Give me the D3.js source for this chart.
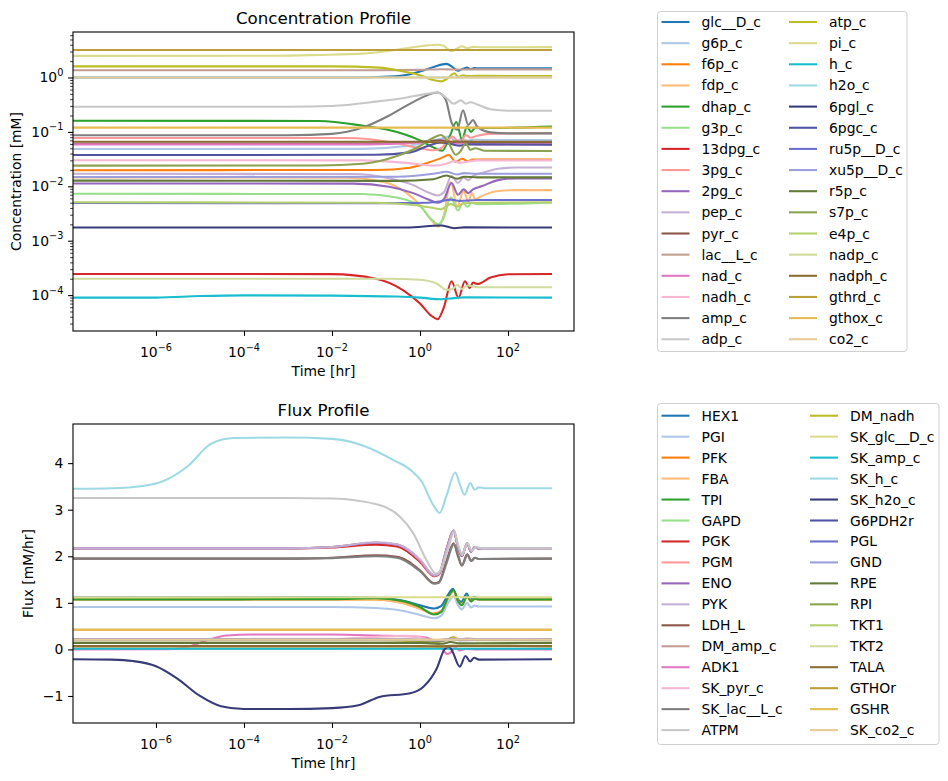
<!DOCTYPE html>
<html>
<head>
<meta charset="utf-8">
<script src="https://cdn.jsdelivr.net/npm/d3@7"></script>
<style>
  body { margin: 0; background: #fff; }
  text { font-family: "DejaVu Sans", sans-serif; fill: #000; }
</style>
</head>
<body>
<svg id="chart" width="948" height="781"></svg>
<script>
// ---- data (time in hr) ----
const xTicks = [1e-6, 1e-4, 1e-2, 1, 1e2];
const concTicks = [1e-4, 1e-3, 1e-2, 1e-1, 1];
const fluxTicks = [-1, 0, 1, 2, 3, 4];

const concNames = ["glc__D_c", "g6p_c", "f6p_c", "fdp_c", "dhap_c", "g3p_c", "13dpg_c", "3pg_c",
  "2pg_c", "pep_c", "pyr_c", "lac__L_c", "nad_c", "nadh_c", "amp_c", "adp_c",
  "atp_c", "pi_c", "h_c", "h2o_c", "6pgl_c", "6pgc_c", "ru5p__D_c", "xu5p__D_c",
  "r5p_c", "s7p_c", "e4p_c", "nadp_c", "nadph_c", "gthrd_c", "gthox_c", "co2_c"];

const concData = [
  [[1.3e-8,1.0],[0.03,1.0],[0.2,1.04],[0.6,1.15],[1.2,1.35],[2.2,1.6],[4,1.78],[5.5,1.55],[7.3,1.33],[9.5,1.45],[11.7,1.52],[14,1.42],[17,1.5],[22,1.47],[1000,1.48]],
  [[1.3e-8,0.0486],[0.05,0.0488],[0.5,0.055],[1.5,0.065],[3,0.075],[4.5,0.082],[6.5,0.068],[9,0.075],[12,0.069],[16,0.072],[30,0.071],[1000,0.071]],
  [[1.3e-8,0.0198],[0.1,0.02],[0.6,0.022],[1.5,0.027],[3,0.033],[4.5,0.0375],[6.5,0.028],[9,0.032],[12,0.029],[16,0.031],[1000,0.031]],
  [[1.3e-8,0.0146],[0.02,0.0144],[0.15,0.012],[0.5,0.0075],[1,0.0045],[1.8,0.0024],[2.6,0.0018],[3.5,0.003],[5,0.012],[7,0.0042],[9.8,0.0083],[12.5,0.0052],[15,0.0075],[18,0.0058],[25,0.0066],[60,0.0082],[150,0.0085],[1000,0.0085]],
  [[1.3e-8,0.16],[0.005,0.159],[0.05,0.13],[0.3,0.1],[1,0.07],[2,0.052],[3.2,0.045],[4.8,0.085],[6.7,0.152],[9,0.072],[11.7,0.125],[14.5,0.1],[18,0.12],[25,0.118],[1000,0.125]],
  [[1.3e-8,0.00728],[0.05,0.0072],[0.3,0.0062],[1,0.0043],[1.8,0.0025],[2.6,0.002],[3.5,0.0027],[5,0.0063],[7.3,0.0036],[9.5,0.005],[12,0.0042],[15,0.005],[20,0.0047],[1000,0.005]],
  [[1.3e-8,0.000245],[0.01,0.000243],[0.1,0.0002],[0.4,0.000125],[1,0.00007],[1.8,0.000042],[2.5,0.000036],[3.5,0.00006],[5.2,0.00018],[7.5,0.00009],[10.5,0.00018],[13.5,0.000135],[16,0.00017],[20,0.00016],[40,0.00021],[100,0.000242],[1000,0.000245]],
  [[1.3e-8,0.0773],[0.02,0.077],[0.3,0.062],[1,0.05],[2,0.046],[3,0.05],[5.5,0.082],[8,0.062],[11,0.088],[14,0.078],[20,0.085],[50,0.093],[1000,0.095]],
  [[1.3e-8,0.0113],[0.03,0.0112],[0.2,0.0098],[0.7,0.0075],[1.5,0.0058],[2.5,0.005],[3.5,0.0058],[5.2,0.0115],[7.3,0.007],[9.8,0.0088],[12.5,0.0075],[16,0.0088],[25,0.01],[60,0.013],[150,0.014],[1000,0.014]],
  [[1.3e-8,0.017],[0.03,0.0168],[0.2,0.014],[0.7,0.0105],[1.5,0.0078],[2.5,0.0068],[3.5,0.0078],[5.2,0.0155],[7.3,0.0115],[9.8,0.0145],[12.5,0.013],[16,0.0155],[25,0.0175],[60,0.021],[150,0.0222],[1000,0.0222]],
  [[1.3e-8,0.0603],[0.1,0.061],[1,0.066],[3,0.07],[5,0.066],[8,0.064],[20,0.063],[1000,0.063]],
  [[1.3e-8,1.36],[0.1,1.36],[1,1.38],[3,1.42],[6,1.4],[20,1.41],[1000,1.41]],
  [[1.3e-8,0.0589],[0.05,0.059],[0.5,0.062],[2,0.065],[4,0.063],[6,0.06],[8,0.062],[20,0.059],[1000,0.059]],
  [[1.3e-8,0.0301],[0.05,0.03],[0.5,0.027],[2,0.024],[4,0.026],[6,0.029],[8,0.027],[20,0.03],[1000,0.03]],
  [[1.3e-8,0.0867],[0.001,0.087],[0.01,0.092],[0.05,0.12],[0.2,0.2],[0.6,0.33],[1.2,0.44],[2.5,0.53],[3.8,0.4],[5.2,0.15],[7,0.11],[9.5,0.25],[12.5,0.134],[16,0.165],[20,0.125],[40,0.098],[100,0.094],[1000,0.094]],
  [[1.3e-8,0.29],[0.001,0.291],[0.01,0.3],[0.1,0.36],[0.5,0.43],[1.2,0.49],[2.5,0.53],[4,0.42],[5.8,0.33],[8.5,0.38],[11,0.33],[14,0.35],[20,0.32],[40,0.26],[100,0.245],[1000,0.245]],
  [[1.3e-8,1.6],[0.01,1.6],[0.12,1.52],[0.4,1.3],[1,1.1],[2,0.9],[3,0.85],[4.5,1.0],[6,1.2],[7.5,1.02],[9.5,1.1],[12,1.06],[20,1.07],[1000,1.06]],
  [[1.3e-8,2.5],[0.0005,2.51],[0.005,2.6],[0.05,2.75],[0.2,3.1],[0.7,3.6],[1.5,3.9],[2.5,4.0],[3.5,3.8],[5,3.05],[6.5,3.3],[9,3.75],[12,3.45],[16,3.65],[25,3.6],[1000,3.62]],
  [[1.3e-8,8.99e-5],[1e-6,9.0e-5],[1e-5,9.6e-5],[1e-4,9.9e-5],[0.01,9.8e-5],[0.3,9.4e-5],[1,9.0e-5],[3,8.4e-5],[6,8.8e-5],[10,9.1e-5],[1000,9.0e-5]],
  [[1.3e-8,1.0],[1000,1.0]],
  [[1.3e-8,0.00175],[0.5,0.00175],[3,0.0019],[6,0.0017],[10,0.00176],[1000,0.00175]],
  [[1.3e-8,0.0375],[0.1,0.038],[0.6,0.042],[1.5,0.055],[3,0.064],[5,0.06],[8,0.056],[12,0.059],[1000,0.058]],
  [[1.3e-8,0.00494],[0.3,0.0049],[1.5,0.005],[3,0.0053],[5,0.0057],[8,0.0054],[20,0.0056],[1000,0.0056]],
  [[1.3e-8,0.0148],[0.3,0.015],[2,0.017],[4,0.0185],[7,0.0165],[10,0.0175],[20,0.017],[1000,0.017]],
  [[1.3e-8,0.0127],[0.3,0.0126],[2,0.0135],[4,0.0158],[7,0.0138],[10,0.015],[20,0.0146],[1000,0.0146]],
  [[1.3e-8,0.024],[0.005,0.0242],[0.05,0.026],[0.3,0.036],[1,0.055],[2,0.078],[3,0.088],[4.5,0.062],[6.5,0.038],[8.5,0.045],[11,0.062],[14,0.047],[18,0.05],[30,0.045],[1000,0.0445]],
  [[1.3e-8,0.00508],[0.1,0.005],[0.8,0.0045],[2,0.004],[3,0.0038],[5,0.0047],[7,0.0042],[10,0.0049],[20,0.005],[1000,0.0051]],
  [[1.3e-8,0.0002],[0.2,0.0002],[1,0.000192],[2.5,0.00016],[4,0.000125],[5.5,0.00013],[7,0.000155],[9,0.00013],[12,0.00015],[20,0.00014],[1000,0.00014]],
  [[1.3e-8,0.0658],[0.2,0.066],[1,0.066],[3,0.064],[6,0.0665],[20,0.066],[1000,0.066]],
  [[1.3e-8,3.2],[1000,3.2]],
  [[1.3e-8,0.12],[1000,0.12]],
  [[1.3e-8,1.0],[1000,1.0]]
];

const fluxNames = ["HEX1", "PGI", "PFK", "FBA", "TPI", "GAPD", "PGK", "PGM",
  "ENO", "PYK", "LDH_L", "DM_amp_c", "ADK1", "SK_pyr_c", "SK_lac__L_c", "ATPM",
  "DM_nadh", "SK_glc__D_c", "SK_amp_c", "SK_h_c", "SK_h2o_c", "G6PDH2r", "PGL", "GND",
  "RPE", "RPI", "TKT1", "TKT2", "TALA", "GTHOr", "GSHR", "SK_co2_c"];

const fluxData = [
  [[1.3e-8,1.12],[0.01,1.12],[0.1,1.11],[0.4,1.05],[1,0.95],[2.1,0.88],[3,0.93],[4.5,1.2],[5.6,1.3],[7,1.1],[8.7,1.02],[11.5,1.2],[14,1.06],[17,1.13],[22,1.08],[1000,1.08]],
  [[1.3e-8,0.91],[0.01,0.91],[0.1,0.89],[0.4,0.83],[1,0.74],[2.1,0.67],[3,0.72],[4.5,1.02],[5.8,1.14],[7.3,0.95],[8.9,0.86],[11.8,1.0],[14.5,0.9],[17.5,0.94],[22,0.92],[1000,0.92]],
  [[1.3e-8,1.07],[0.01,1.075],[0.1,1.07],[0.4,1.0],[1,0.88],[2.1,0.77],[3,0.82],[4.5,1.13],[5.8,1.25],[7.3,1.04],[8.9,0.96],[11.8,1.13],[14.5,1.03],[17.5,1.09],[22,1.07],[1000,1.07]],
  [[1.3e-8,1.07],[0.01,1.075],[0.1,1.07],[0.4,0.99],[1,0.87],[2.1,0.76],[3,0.81],[4.5,1.12],[5.8,1.24],[7.3,1.04],[8.9,0.96],[11.8,1.13],[14.5,1.03],[17.5,1.09],[22,1.07],[1000,1.07]],
  [[1.3e-8,1.07],[0.01,1.08],[0.1,1.1],[0.4,1.04],[1,0.91],[2.1,0.75],[3,0.8],[4.5,1.15],[5.8,1.27],[7.3,1.04],[8.9,0.95],[11.8,1.14],[14.5,1.03],[17.5,1.09],[22,1.07],[1000,1.07]],
  [[1.3e-8,2.17],[0.001,2.17],[0.01,2.2],[0.1,2.28],[0.3,2.24],[1,1.9],[2.1,1.58],[2.7,1.62],[4,2.15],[5.8,2.55],[7.3,2.2],[8.9,2.0],[11.8,2.28],[14.5,2.1],[17.5,2.2],[22,2.16],[1000,2.17]],
  [[1.3e-8,2.17],[0.001,2.17],[0.01,2.19],[0.1,2.25],[0.3,2.21],[1,1.88],[2.1,1.57],[2.7,1.61],[4,2.14],[5.8,2.53],[7.3,2.2],[8.9,2.0],[11.8,2.27],[14.5,2.1],[17.5,2.2],[22,2.16],[1000,2.17]],
  [[1.3e-8,2.17],[0.001,2.17],[0.01,2.2],[0.1,2.29],[0.3,2.25],[1,1.91],[2.1,1.58],[2.7,1.62],[4,2.16],[5.8,2.55],[7.3,2.2],[8.9,2.0],[11.8,2.28],[14.5,2.1],[17.5,2.2],[22,2.16],[1000,2.17]],
  [[1.3e-8,2.17],[0.001,2.17],[0.01,2.2],[0.1,2.29],[0.3,2.25],[1,1.92],[2.1,1.59],[2.7,1.62],[4,2.15],[5.8,2.55],[7.3,2.21],[8.9,2.01],[11.8,2.28],[14.5,2.1],[17.5,2.2],[22,2.16],[1000,2.17]],
  [[1.3e-8,2.17],[0.001,2.17],[0.01,2.2],[0.1,2.3],[0.3,2.26],[1,1.93],[2.1,1.6],[2.7,1.63],[4,2.12],[5.9,2.55],[7.4,2.22],[9,2.02],[12,2.28],[14.8,2.11],[17.8,2.2],[22,2.17],[1000,2.17]],
  [[1.3e-8,1.95],[0.001,1.95],[0.01,1.97],[0.1,2.02],[0.3,1.99],[1,1.7],[2.1,1.42],[2.7,1.45],[4,1.9],[5.8,2.28],[7.3,2.0],[8.9,1.8],[11.8,2.04],[14.5,1.9],[17.5,1.97],[22,1.94],[1000,1.95]],
  [[1.3e-8,0.014],[0.01,0.014],[0.5,0.02],[2.5,0.03],[5,0.02],[10,0.015],[1000,0.014]],
  [[1.3e-8,0],[2e-6,0.003],[5e-6,0.05],[1.5e-5,0.2],[4e-5,0.3],[1.5e-4,0.32],[0.01,0.32],[0.1,0.3],[1,0.27],[2,0.2],[3,0.05],[4.2,-0.1],[5.2,-0.05],[6.3,0.04],[8,-0.02],[11,0.01],[20,0],[1000,0]],
  [[1.3e-8,0.22],[0.01,0.22],[0.1,0.27],[0.5,0.29],[1,0.26],[2,0.18],[4,0.2],[6,0.27],[8,0.21],[12,0.24],[20,0.22],[1000,0.22]],
  [[1.3e-8,1.95],[0.001,1.95],[0.01,1.96],[0.1,2.0],[0.3,1.97],[1,1.68],[2.1,1.41],[2.7,1.43],[4,1.85],[5.9,2.26],[7.4,2.02],[9,1.8],[12,2.03],[14.8,1.9],[17.8,1.97],[22,1.94],[1000,1.95]],
  [[1.3e-8,3.25],[0.001,3.25],[0.01,3.24],[0.12,3.1],[0.35,2.85],[0.7,2.5],[1.4,1.92],[2.3,1.63],[3,1.72],[4.3,2.15],[6,2.52],[7.3,2.25],[9,2.05],[12,2.27],[15,2.12],[19,2.2],[25,2.17],[1000,2.17]],
  [[1.3e-8,0.2],[0.1,0.2],[1,0.17],[2.2,0.15],[4,0.2],[5.6,0.26],[7.5,0.2],[11,0.23],[20,0.2],[1000,0.2]],
  [[1.3e-8,1.12],[1000,1.12]],
  [[1.3e-8,0.014],[1000,0.014]],
  [[1.3e-8,3.45],[1e-7,3.46],[5e-7,3.51],[1.35e-6,3.6],[5.5e-6,3.95],[1.8e-5,4.42],[6e-5,4.54],[1e-3,4.55],[0.01,4.52],[0.05,4.38],[0.27,4.05],[0.6,3.86],[1.1,3.6],[2,3.1],[2.8,2.93],[4,3.3],[6.3,3.8],[8,3.55],[10.3,3.32],[13.8,3.57],[17.5,3.43],[22,3.48],[30,3.46],[1000,3.46]],
  [[1.3e-8,-0.21],[1e-7,-0.22],[3e-7,-0.25],[1e-6,-0.36],[3e-6,-0.62],[1e-5,-1.0],[3e-5,-1.22],[1e-4,-1.28],[1e-3,-1.28],[0.01,-1.26],[0.04,-1.2],[0.12,-1.02],[0.6,-0.94],[1.2,-0.8],[2.4,-0.41],[3.6,0],[4.6,0.06],[5.5,-0.05],[8,-0.37],[10.8,-0.14],[13.8,-0.26],[17,-0.18],[22,-0.22],[1000,-0.21]],
  [[1.3e-8,0.21],[0.1,0.21],[1,0.2],[3,0.19],[5,0.23],[8,0.2],[1000,0.21]],
  [[1.3e-8,0.21],[0.5,0.21],[3,0.2],[5,0.22],[1000,0.21]],
  [[1.3e-8,0.21],[0.5,0.21],[3,0.2],[5,0.22],[1000,0.21]],
  [[1.3e-8,0.14],[1,0.14],[3,0.12],[5,0.16],[8,0.13],[1000,0.14]],
  [[1.3e-8,0.07],[1,0.07],[3,0.06],[5,0.08],[1000,0.07]],
  [[1.3e-8,0.07],[1,0.07],[3,0.06],[5,0.08],[1000,0.07]],
  [[1.3e-8,0.07],[1000,0.07]],
  [[1.3e-8,0.07],[1,0.07],[3,0.065],[5,0.075],[1000,0.07]],
  [[1.3e-8,0.42],[1000,0.42]],
  [[1.3e-8,0.42],[1000,0.42]],
  [[1.3e-8,0.21],[1000,0.21]]
];

// tab20 followed by tab20b
const palette = ["#1f77b4","#aec7e8","#ff7f0e","#ffbb78","#2ca02c","#98df8a","#d62728","#ff9896",
  "#9467bd","#c5b0d5","#8c564b","#c49c94","#e377c2","#f7b6d2","#7f7f7f","#c7c7c7",
  "#bcbd22","#dbdb8d","#17becf","#9edae5","#393b79","#5254a3","#6b6ecf","#9c9ede",
  "#637939","#8ca252","#b5cf6b","#cedb9c","#8c6d31","#bd9e39","#e7ba52","#e7cb94"];

const svg = d3.select("#chart");
svg.append("rect").attr("width", 948).attr("height", 781).attr("fill", "#fff");

const x = d3.scaleLog().domain([1.3e-8, 3162]).range([73, 574]);

function expLabel(sel, e) {
  sel.append("tspan").text("10");
  sel.append("tspan")
    .attr("dy", -6.5)
    .style("font-size", "9.7px")
    .text(e < 0 ? "\u2212" + (-e) : String(e));
}

function drawPanel(p) {
  const g = svg.append("g");
  const y = p.y;
  const id = "clip" + p.top;

  svg.append("clipPath").attr("id", id)
    .append("rect").attr("x", 73).attr("y", p.top).attr("width", 501).attr("height", p.bottom - p.top);

  const line = d3.line()
    .x(d => x(d[0]))
    .y(d => y(d[1]))
    .curve(d3.curveMonotoneX);

  g.append("g").attr("clip-path", `url(#${id})`)
    .selectAll("path")
    .data(p.data)
    .join("path")
      .attr("d", line)
      .attr("fill", "none")
      .attr("stroke", (d, i) => palette[i])
      .attr("stroke-width", 2.08)
      .attr("stroke-linejoin", "round");

  // x axis
  const xa = g.append("g")
    .attr("transform", `translate(0,${p.bottom})`)
    .call(d3.axisBottom(x).tickValues(xTicks).tickSize(4.9).tickFormat(""));
  xa.select(".domain").remove();
  xa.selectAll("line").attr("stroke", "#000").attr("stroke-width", 1.1);

  g.selectAll("text.xt")
    .data(xTicks)
    .join("text")
      .attr("class", "xt")
      .attr("x", d => x(d))
      .attr("y", p.bottom + 26)
      .attr("text-anchor", "middle")
      .style("font-size", "13.9px")
      .each(function (d) { expLabel(d3.select(this), Math.round(Math.log10(d))); });

  // y axis
  const ya = g.append("g")
    .attr("transform", "translate(73,0)")
    .call(d3.axisLeft(y).tickValues(p.ticks).tickSize(4.9).tickFormat(""));
  ya.select(".domain").remove();
  ya.selectAll("line").attr("stroke", "#000").attr("stroke-width", 1.1);

  if (p.minor) {
    const ym = g.append("g")
      .attr("transform", "translate(73,0)")
      .call(d3.axisLeft(y).tickValues(p.minor).tickSize(2.8).tickFormat(""));
    ym.select(".domain").remove();
    ym.selectAll("line").attr("stroke", "#000").attr("stroke-width", 0.8);
  }

  g.selectAll("text.yt")
    .data(p.ticks)
    .join("text")
      .attr("class", "yt")
      .attr("x", 63.3)
      .attr("y", d => y(d) + 5)
      .attr("text-anchor", "end")
      .style("font-size", "13.9px")
      .each(function (d) {
        if (p.logLabels) expLabel(d3.select(this), Math.round(Math.log10(d)));
        else d3.select(this).text(d < 0 ? "\u2212" + (-d) : String(d));
      });

  // frame
  g.append("rect")
    .attr("x", 73).attr("y", p.top)
    .attr("width", 501).attr("height", p.bottom - p.top)
    .attr("fill", "none").attr("stroke", "#000").attr("stroke-width", 1.1);

  g.append("text")
    .attr("x", 323.5).attr("y", p.top - 8.3)
    .attr("text-anchor", "middle")
    .style("font-size", "16.7px")
    .text(p.title);

  g.append("text")
    .attr("x", 323.5).attr("y", p.bottom + 45)
    .attr("text-anchor", "middle")
    .style("font-size", "13.9px")
    .text("Time [hr]");

  g.append("text")
    .attr("transform", `translate(${p.ylabelX},${(p.top + p.bottom) / 2}) rotate(-90)`)
    .attr("text-anchor", "middle")
    .style("font-size", "13.9px")
    .text(p.ylabel);

  // legend
  const L = p.legend;
  const lg = svg.append("g");
  lg.append("rect")
    .attr("x", L.x).attr("y", L.y).attr("width", L.w).attr("height", L.h)
    .attr("rx", 3).attr("fill", "#fff").attr("fill-opacity", 0.8)
    .attr("stroke", "#d0d0d0").attr("stroke-width", 1);

  p.names.forEach((name, i) => {
    const col = i < 16 ? 0 : 1;
    const row = i % 16;
    const cy = L.row0 + row * L.rowH;
    const lx = col === 0 ? L.col1 : L.col2;
    lg.append("line")
      .attr("x1", lx).attr("x2", lx + 28)
      .attr("y1", cy).attr("y2", cy)
      .attr("stroke", palette[i]).attr("stroke-width", 2.08);
    lg.append("text")
      .attr("x", lx + 40).attr("y", cy + 5)
      .style("font-size", "13.9px")
      .text(name);
  });
}

const minorConc = [];
for (let k = -5; k <= 0; k++) {
  for (let m = 2; m <= 9; m++) {
    const v = m * Math.pow(10, k);
    if (v > 2.19e-5 && v < 6.86) minorConc.push(v);
  }
}

drawPanel({
  top: 32, bottom: 331,
  y: d3.scaleLog().domain([2.19e-5, 6.86]).range([331, 32]),
  ticks: concTicks, minor: minorConc, logLabels: true,
  title: "Concentration Profile", ylabel: "Concentration [mM]", ylabelX: 21,
  names: concNames, data: concData,
  legend: { x: 657.5, y: 11.5, w: 249.5, h: 340, row0: 22, rowH: 21.15, col1: 661.5, col2: 789 }
});

drawPanel({
  top: 424, bottom: 723,
  y: d3.scaleLinear().domain([-1.58, 4.84]).range([723, 424]),
  ticks: fluxTicks, minor: null, logLabels: false,
  title: "Flux Profile", ylabel: "Flux [mM/hr]", ylabelX: 33,
  names: fluxNames, data: fluxData,
  legend: { x: 657.5, y: 403.5, w: 281.5, h: 341, row0: 415.7, rowH: 20.96, col1: 661.5, col2: 810 }
});
</script>
</body>
</html>
